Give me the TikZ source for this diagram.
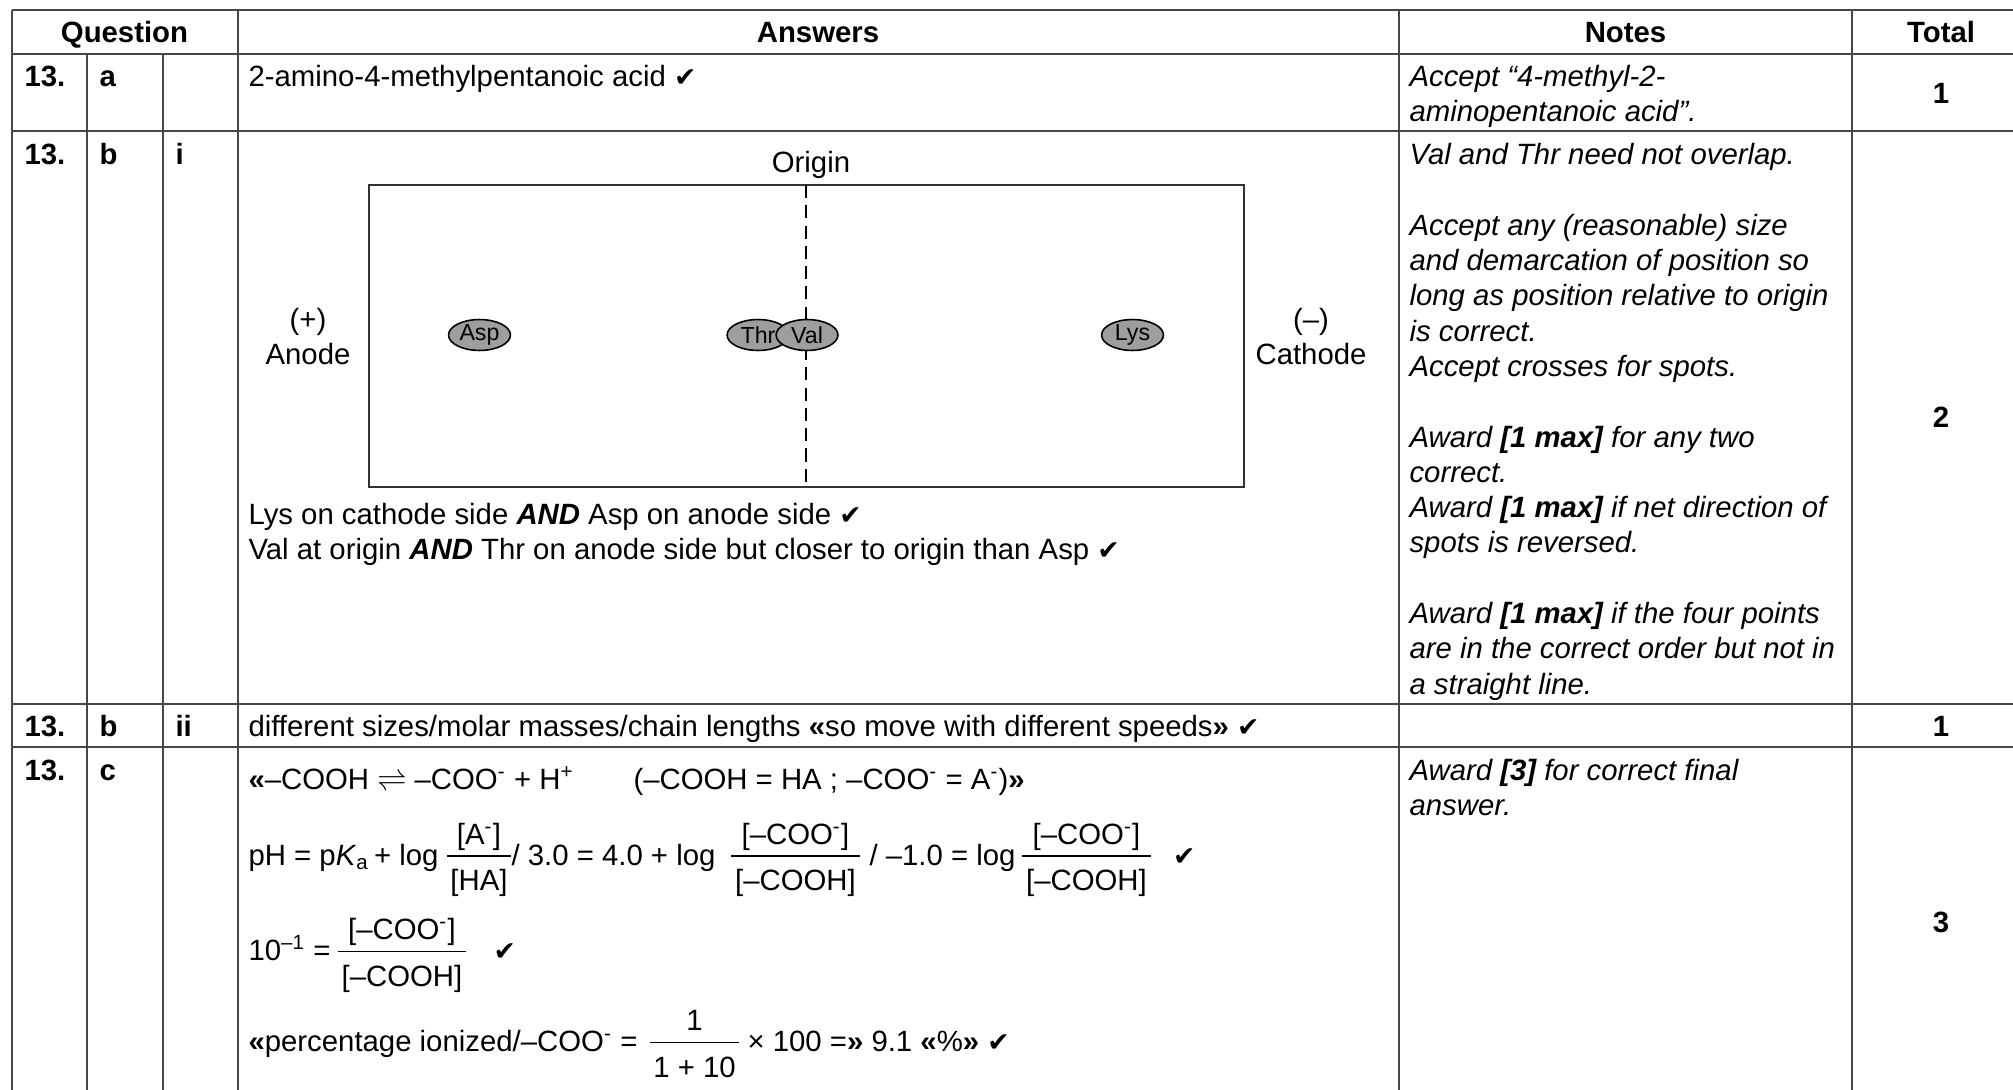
\documentclass[tikz,border=0pt]{standalone}
\usepackage{fontspec}
\setmainfont{Liberation Sans}
\newfontfamily\dv{DejaVu Sans}
\usetikzlibrary{shapes.geometric}
\newcommand\ck{{\dv\fontsize{10}{12}\selectfont ✔}}
\newcommand\mns{\textsuperscript{-}}
\tikzset{
  gridline/.style={line width=0.75pt, draw=black!72},
  txt/.style={inner sep=0pt, anchor=base west, font=\fontsize{11}{13.2}\selectfont},
  bld/.style={inner sep=0pt, anchor=base west, font=\fontsize{11}{13.2}\selectfont\bfseries},
  hdr/.style={inner sep=0pt, anchor=base, font=\fontsize{11}{13.2}\selectfont\bfseries},
  note/.style={inner sep=0pt, anchor=base west, font=\fontsize{11}{13.2}\selectfont\itshape},
  ctr/.style={inner sep=0pt, anchor=base, font=\fontsize{11}{13.2}\selectfont},
  den/.style={inner ysep=0pt, inner xsep=1.2pt, anchor=base, font=\fontsize{11}{13.2}\selectfont},
  fracbar/.style={line width=0.7pt, draw=black},
  spot/.style={ellipse, draw=black, line width=0.6pt, fill=black!38, inner sep=0pt,
    minimum width=23.2pt, minimum height=11.6pt, font=\fontsize{8.7}{10}\selectfont},
  gel/.style={line width=0.75pt, draw=black!80},
  origin/.style={line width=0.8pt, draw=black, dash pattern=on 4.9pt off 2.7pt},
}
\begin{document}
\begin{tikzpicture}[x=0.375pt, y=-0.375pt]
\useasboundingbox (0,0) rectangle (2013,1090);
% ---- grid ----
\draw[gridline] (11.5,10) -- (2013,10);
\draw[gridline] (11.5,54) -- (2013,54);
\draw[gridline] (11.5,131.5) -- (2013,131.5);
\draw[gridline] (11.5,703.5) -- (2013,703.5);
\draw[gridline] (11.5,747) -- (2013,747);
\draw[gridline] (11.5,10) -- (11.5,1090);
\draw[gridline] (87,54) -- (87,1090);
\draw[gridline] (163,54) -- (163,1090);
\draw[gridline] (237.5,10) -- (237.5,1090);
\draw[gridline] (1399,10) -- (1399,1090);
\draw[gridline] (1852,10) -- (1852,1090);
% ---- header ----
\node[hdr] (hq) at (124.5,42.5) {Question};
\node[hdr] (ha) at (818,42.5) {Answers};
\node[hdr] (hn) at (1625.5,42.5) {Notes};
\node[hdr] (ht) at (1941,42.5) {Total};
% ---- row a ----
\node[bld] (a1) at (24,86.5) {13.};
\node[bld] (a2) at (99,86.5) {a};
\node[txt] (aans) at (248,86.5) {2-amino-4-methylpentanoic acid \ck};
\node[note] (an1) at (1409,86.5) {Accept “4-methyl-2-};
\node[note] (an2) at (1409,121.8) {aminopentanoic acid”.};
\node[hdr] (at) at (1941,103.5) {1};
% ---- row b i ----
\node[bld] (b1) at (24,164.6) {13.};
\node[bld] (b2) at (99,164.6) {b};
\node[bld] (b3) at (175,164.6) {i};
\foreach \k/\t in {0/{Val and Thr need not overlap.},
  2/{Accept any (reasonable) size},
  3/{and demarcation of position so},
  4/{long as position relative to origin},
  5/{is correct.},
  6/{Accept crosses for spots.},
  8/{Award \textbf{[1 max]} for any two},
  9/{correct.},
  10/{Award \textbf{[1 max]} if net direction of},
  11/{spots is reversed.},
  13/{Award \textbf{[1 max]} if the four points},
  14/{are in the correct order but not in},
  15/{a straight line.}}
  {\node[note] (bn\k) at (1409,164.6+35.3*\k) {\t};}
\node[hdr] (bt) at (1941,428) {2};
% gel diagram
\draw[gel] (368.5,185) rectangle (1244,486.5);
\draw[origin] (806,185) -- (806,486.5);
\node[ctr] (orig) at (811,173) {Origin};
\node[ctr] (an) at (308,330) {(+)};
\node[ctr] (ano) at (308,365) {Anode};
\node[ctr] (ca) at (1311,330) {(–)};
\node[ctr] (cat) at (1311,365) {Cathode};
\node[spot] (asp) at (479.5,335) {Asp};
\node[spot] (thr) at (758,335) {Thr};
\node[spot] (val) at (807,335) {Val};
\node[spot] (lys) at (1132.5,335) {Lys};
\node[txt] (bl1) at (248,524.5) {Lys on cathode side \textbf{\textit{AND}} Asp on anode side \ck};
\node[txt] (bl2) at (248,559.8) {Val at origin \textbf{\textit{AND}} Thr on anode side but closer to origin than Asp \ck};
% ---- row b ii ----
\node[bld] (c1) at (24,736) {13.};
\node[bld] (c2) at (99,736) {b};
\node[bld] (c3) at (175,736) {ii};
\node[txt] (cans) at (248,736) {different sizes/molar masses/chain lengths \textbf{«}so move with different speeds\textbf{»} \ck};
\node[hdr] (ct) at (1941,736) {1};
% ---- row c ----
\node[bld] (d1) at (24,780) {13.};
\node[bld] (d2) at (99,780) {c};
\node[note] (dn1) at (1409,780) {Award \textbf{[3]} for correct final};
\node[note] (dn2) at (1409,815.3) {answer.};
\node[hdr] (dt) at (1941,932) {3};
% line 1
\node[txt] (l1a) at (248,789.5) {\textbf{«}–COOH $\rightleftharpoons$ –COO\mns{} + H\textsuperscript{+}};
\node[txt] (l1b) at (633,789.5) {(–COOH = HA ; –COO\mns{} = A\mns{})\textbf{»}};
% line 2
\coordinate (bar2) at (0,856);
\node[txt] (l2a) at (248,865) {pH = p\textit{K}\textsubscript{a}\,+ log};
\node[den] (f1n) at (479,844) {[A\mns{}]};
\node[den] (f1d) at (479,890.5) {[HA]};
\draw[fracbar] (f1d.west |- bar2) -- (f1d.east |- bar2);
\node[txt] (l2b) at (511,865) {/ 3.0 = 4.0 + log};
\node[den] (f2n) at (795.5,844) {[–COO\mns{}]};
\node[den] (f2d) at (795.5,890.5) {[–COOH]};
\draw[fracbar] (f2d.west |- bar2) -- (f2d.east |- bar2);
\node[txt] (l2c) at (869,865) {/ –1.0 = log};
\node[den] (f3n) at (1086.5,844) {[–COO\mns{}]};
\node[den] (f3d) at (1086.5,890.5) {[–COOH]};
\draw[fracbar] (f3d.west |- bar2) -- (f3d.east |- bar2);
\node[txt] (l2k) at (1172.5,865) {\ck};
% line 3
\coordinate (bar3) at (0,951.5);
\node[txt] (l3a) at (248,960.5) {10\textsuperscript{–1} =};
\node[den] (f4n) at (402,939.5) {[–COO\mns{}]};
\node[den] (f4d) at (402,986) {[–COOH]};
\draw[fracbar] (f4d.west |- bar3) -- (f4d.east |- bar3);
\node[txt] (l3k) at (493,960.5) {\ck};
% line 4
\coordinate (bar4) at (0,1042.5);
\node[txt] (l4a) at (248,1051.5) {\textbf{«}percentage ionized/–COO\mns{} =};
\node[den] (f5n) at (694.5,1030.5) {1};
\node[den] (f5d) at (694.5,1077) {1 + 10};
\draw[fracbar] (f5d.west |- bar4) -- (f5d.east |- bar4);
\node[txt] (l4b) at (747,1051.5) {× 100 =\textbf{»} 9.1 \textbf{«}\%\textbf{»} \ck};
\end{tikzpicture}
\end{document}
